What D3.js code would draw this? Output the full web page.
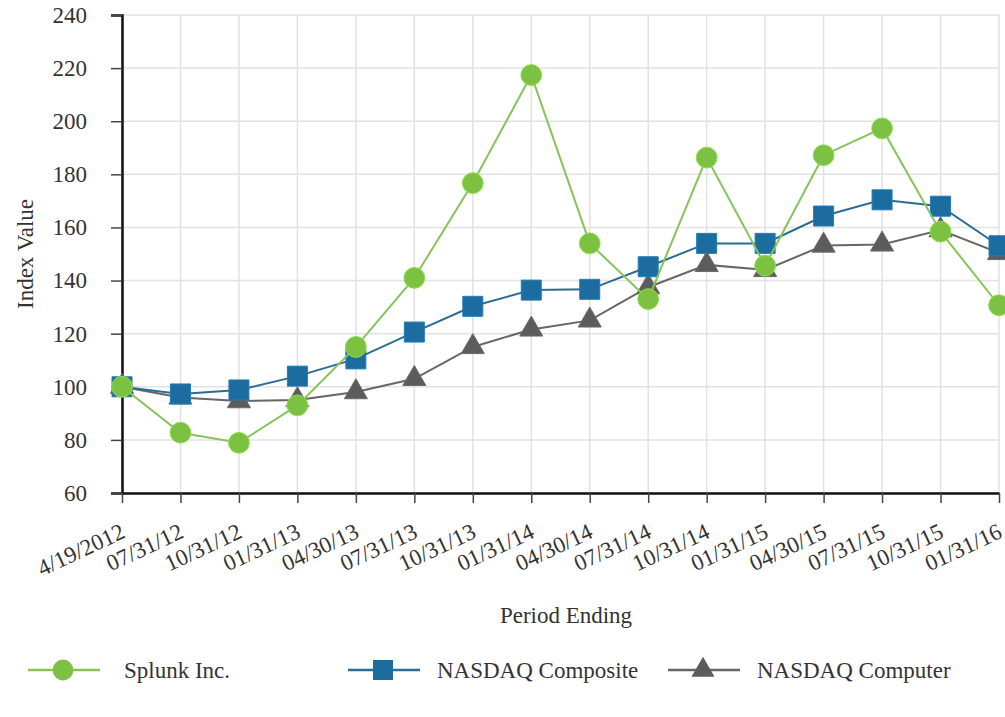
<!DOCTYPE html>
<html>
<head>
<meta charset="utf-8">
<script src="https://cdn.jsdelivr.net/npm/d3@7"></script>
<style>
  body { margin: 0; background: #fff; }
</style>
</head>
<body>
<script>
// Data
var periods = ["4/19/2012", "07/31/12", "10/31/12", "01/31/13", "04/30/13", "07/31/13",
    "10/31/13", "01/31/14", "04/30/14", "07/31/14", "10/31/14", "01/31/15",
    "04/30/15", "07/31/15", "10/31/15", "01/31/16"];
var splunk = [100, 82.7, 78.9, 93, 115, 141, 176.7, 217.4, 154, 133, 186.3, 145.6, 187.2, 197.3, 158.4, 130.7];
var nasdaqComposite = [100, 97.3, 98.8, 104, 110.5, 120.6, 130.3, 136.4, 136.7, 145.2, 154, 154, 164.3, 170.4, 168, 153.1];
var nasdaqComputer = [100, 96, 94.6, 95, 98, 103, 115, 121.6, 125, 137.5, 145.9, 144, 153.2, 153.6, 159, 150.4];
var yTicks = [60, 80, 100, 120, 140, 160, 180, 200, 220, 240];

var W = 1005, H = 717;
var margin = {top: 15, left: 122, right: 6, bottom: 224};
var serif = "'Liberation Serif', 'DejaVu Serif', 'Times New Roman', serif";

var svg = d3.select("body").append("svg")
    .attr("width", W)
    .attr("height", H)
    .attr("font-family", serif);

var xScale = d3.scalePoint()
    .domain(periods)
    .range([margin.left, W - margin.right]);
var yScale = d3.scaleLinear()
    .domain([60, 240])
    .range([H - margin.bottom, margin.top]);

// Gridlines
svg.append("g").selectAll("line.hgrid")
    .data(yTicks).enter().append("line")
    .attr("x1", margin.left).attr("x2", W - margin.right)
    .attr("y1", function(d) { return yScale(d); })
    .attr("y2", function(d) { return yScale(d); })
    .attr("stroke", "#e2e2e2").attr("stroke-width", 1.5);
svg.append("g").selectAll("line.vgrid")
    .data(periods).enter().append("line")
    .attr("x1", function(d) { return xScale(d); })
    .attr("x2", function(d) { return xScale(d); })
    .attr("y1", yScale(60)).attr("y2", yScale(240))
    .attr("stroke", "#e2e2e2").attr("stroke-width", 1.5);

// Axes
var yAxis = svg.append("g")
    .attr("transform", "translate(" + margin.left + ",0)")
    .call(d3.axisLeft(yScale).tickValues(yTicks).tickSize(11).tickPadding(24));
yAxis.attr("font-family", serif);
yAxis.select(".domain").attr("stroke", "#111").attr("stroke-width", 2.5);
yAxis.selectAll(".tick line").attr("stroke", "#444").attr("stroke-width", 1.5);
yAxis.selectAll("text").attr("fill", "#333").style("font-size", "23px").attr("dy", "0.32em");

var xAxis = svg.append("g")
    .attr("transform", "translate(0," + yScale(60) + ")")
    .call(d3.axisBottom(xScale).tickSize(10).tickSizeOuter(0));
xAxis.attr("font-family", serif);
xAxis.select(".domain").attr("stroke", "#111").attr("stroke-width", 2.5);
xAxis.selectAll(".tick line").attr("stroke", "#444").attr("stroke-width", 1.5);
xAxis.selectAll("text")
    .attr("fill", "#333")
    .style("font-size", "23px")
    .attr("text-anchor", "end")
    .attr("y", 0).attr("dy", 0)
    .attr("transform", "translate(4,44) rotate(-25)");

// Axis titles
svg.append("text")
    .attr("transform", "translate(33," + yScale(150) + ") rotate(-90)")
    .attr("text-anchor", "middle")
    .attr("fill", "#333")
    .style("font-size", "23px")
    .text("Index Value");
svg.append("text")
    .attr("x", 566).attr("y", 623)
    .attr("text-anchor", "middle")
    .attr("fill", "#333")
    .style("font-size", "23px")
    .text("Period Ending");

// Series
var series = [
    {name: "NASDAQ Computer", values: nasdaqComputer, line: "#666", fill: "#5c5c5c", shape: d3.symbolTriangle, size: 230},
    {name: "NASDAQ Composite", values: nasdaqComposite, line: "#2a6c92", fill: "#1d6c9f", shape: d3.symbolSquare, size: 400},
    {name: "Splunk Inc.", values: splunk, line: "#86c459", fill: "#7cc142", shape: d3.symbolCircle, size: 340}
];

var line = d3.line()
    .x(function(d, i) { return xScale(periods[i]); })
    .y(function(d) { return yScale(d); });

series.forEach(function(s) {
    var g = svg.append("g");
    g.append("path")
        .attr("d", line(s.values))
        .attr("fill", "none")
        .attr("stroke", s.line)
        .attr("stroke-width", 2);
    g.selectAll("path.marker")
        .data(s.values).enter().append("path")
        .attr("class", "marker")
        .attr("transform", function(d, i) { return "translate(" + xScale(periods[i]) + "," + yScale(d) + ")"; })
        .attr("d", d3.symbol().type(s.shape).size(s.size))
        .attr("fill", s.fill)
        .attr("stroke", d3.color(s.fill).brighter(0.4))
        .attr("stroke-width", 1);
});

// Legend
var legend = [
    {s: series[2], x: 28, tx: 124},
    {s: series[1], x: 348, tx: 437},
    {s: series[0], x: 668, tx: 757}
];
var ly = 670;
legend.forEach(function(l) {
    var g = svg.append("g");
    g.append("line")
        .attr("x1", l.x).attr("x2", l.x + 72)
        .attr("y1", ly).attr("y2", ly)
        .attr("stroke", l.s.line).attr("stroke-width", 2.5);
    g.append("path")
        .attr("transform", "translate(" + (l.x + 35) + "," + ly + ")")
        .attr("d", d3.symbol().type(l.s.shape).size(l.s.size))
        .attr("fill", l.s.fill);
    g.append("text")
        .attr("x", l.tx).attr("y", ly + 8)
        .attr("fill", "#333")
        .style("font-size", "23px")
        .text(l.s.name);
});
</script>
</body>
</html>
